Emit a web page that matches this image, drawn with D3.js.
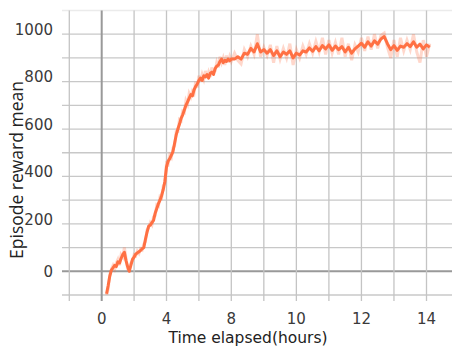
<!DOCTYPE html>
<html>
<head>
<meta charset="utf-8">
<script src="https://cdn.jsdelivr.net/npm/d3@7"></script>
<style>
  body { margin: 0; background: #fff; }
  svg { display: block; }
</style>
</head>
<body>
<div id="vis"></div>
<script>
// sample times (hours), one every 0.1h
const hours = d3.range(139).map(i => +(0.3 + i * 0.1).toFixed(1));

// smoothed episode reward mean
const smoothed = [
  -95, -60, -20, 5, 15, 25, 20, 40, 35, 55,
  70, 80, 45, 20, 0, 25, 50, 60, 72, 78,
  82, 88, 95, 100, 135, 165, 190, 195, 205, 215,
  245, 265, 285, 300, 320, 345, 380, 440, 465, 475,
  490, 505, 540, 575, 600, 620, 645, 660, 680, 700,
  715, 730, 745, 740, 765, 780, 790, 805, 815, 805,
  825, 820, 830, 815, 835, 840, 830, 855, 865, 870,
  885, 895, 880, 890, 885, 895, 888, 895, 895, 905,
  895, 920, 915, 940, 925, 960, 925, 935, 920, 935,
  910, 930, 905, 925, 915, 930, 900, 920, 912, 930,
  925, 942, 928, 948, 930, 952, 938, 955, 932, 950,
  935, 948, 925, 945, 920, 938, 950, 962, 945, 968,
  950, 972, 958, 980, 990, 960, 935, 952, 932, 950,
  945, 960, 948, 968, 945, 958, 938, 955, 945
];

// raw (unsmoothed) episode reward mean
const raw = [
  -100, -75, -15, 10, 25, 10, 35, 50, 25, 70,
  60, 100, 55, 10, 5, 35, 45, 70, 65, 85,
  75, 95, 90, 115, 125, 175, 185, 205, 195, 230,
  235, 280, 275, 315, 310, 360, 370, 455, 450, 490,
  480, 520, 530, 590, 590, 640, 635, 675, 670, 720,
  705, 750, 735, 760, 750, 800, 775, 825, 800, 830,
  810, 845, 815, 840, 820, 860, 840, 845, 880, 860,
  905, 880, 900, 870, 910, 880, 905, 885, 920, 890,
  875, 935, 905, 950, 915, 1000, 905, 945, 910, 955,
  880, 950, 895, 940, 900, 960, 870, 935, 900, 950,
  915, 960, 920, 970, 925, 985, 915, 975, 920, 965,
  915, 985, 905, 960, 890, 955, 925, 985, 930, 990,
  935, 1000, 940, 995, 1005, 945, 900, 975, 905, 985,
  930, 975, 935, 1000, 925, 880, 975, 905, 960
];

const xTickLabels = [0, 4, 8, 10, 12, 14];
const xGrid = [-2, 0, 2, 4, 6, 8, 9, 10, 11, 12, 13, 14];
const yTickLabels = [0, 200, 400, 600, 800, 1000];
const yGrid = d3.range(-100, 1101, 100);

const width = 452;
const height = 347;
const lineColour = '#ff7043';

const svg = d3.select('#vis').append('svg')
  .attr('width', width)
  .attr('height', height);

// the x axis of the original is stretched after 8h
const x = d3.scaleLinear()
  .domain([0, 8, 14])
  .range([101.7, 231.3, 426.5]);

const y = d3.scaleLinear()
  .domain([-100, 1100])
  .range([295, 10.5]);

// horizontal grid
svg.append('g').selectAll('line')
  .data(yGrid)
  .join('line')
  .attr('x1', 62)
  .attr('x2', width)
  .attr('y1', d => y(d))
  .attr('y2', d => y(d))
  .attr('stroke', d => d === 0 ? '#999' : (d === 1100 ? '#ebebeb' : '#c8c8c8'))
  .attr('stroke-width', d => d === 0 ? 2 : 1.3);

// vertical grid
svg.append('g').selectAll('line')
  .data(xGrid)
  .join('line')
  .attr('x1', d => x(d))
  .attr('x2', d => x(d))
  .attr('y1', y(1100))
  .attr('y2', 301)
  .attr('stroke', d => d === 0 ? '#999' : '#c4c4c4')
  .attr('stroke-width', d => d === 0 ? 2 : 1.3);

// clip lines to plot area
svg.append('clipPath').attr('id', 'plot')
  .append('rect')
  .attr('x', x(-2)).attr('y', y(1100))
  .attr('width', width - x(-2)).attr('height', y(-100) - y(1100));

const line = d3.line()
  .x(d => x(d[0]))
  .y(d => y(d[1]));

svg.append('path')
  .datum(hours.map((h, i) => [h, raw[i]]))
  .attr('clip-path', 'url(#plot)')
  .attr('fill', 'none')
  .attr('stroke', lineColour)
  .attr('stroke-opacity', 0.28)
  .attr('stroke-width', 3)
  .attr('d', line);

svg.append('path')
  .datum(hours.map((h, i) => [h, smoothed[i]]))
  .attr('clip-path', 'url(#plot)')
  .attr('fill', 'none')
  .attr('stroke', lineColour)
  .attr('stroke-width', 3)
  .attr('stroke-linejoin', 'round')
  .attr('d', line);

// tick labels
svg.append('g').selectAll('text')
  .data(yTickLabels)
  .join('text')
  .attr('x', 53)
  .attr('y', d => y(d))
  .attr('dy', d => d === 0 ? '0.35em' : '0.05em')
  .attr('text-anchor', 'end')
  .style('font', '15px "DejaVu Sans"')
  .attr('fill', '#3a3a3a')
  .text(d => d);

svg.append('g').selectAll('text')
  .data(xTickLabels)
  .join('text')
  .attr('x', d => x(d))
  .attr('y', 324)
  .attr('text-anchor', 'middle')
  .style('font', '15px "DejaVu Sans"')
  .attr('fill', '#3a3a3a')
  .text(d => d);

// axis titles
svg.append('text')
  .attr('x', 248)
  .attr('y', 342.5)
  .attr('text-anchor', 'middle')
  .style('font', '15.5px "DejaVu Sans"')
  .attr('fill', '#222')
  .text('Time elapsed(hours)');

svg.append('text')
  .attr('transform', 'translate(23,170) rotate(-90)')
  .attr('text-anchor', 'middle')
  .style('font', '17.5px "Open Sans"')
  .attr('fill', '#222')
  .text('Episode reward mean');
</script>
</body>
</html>
